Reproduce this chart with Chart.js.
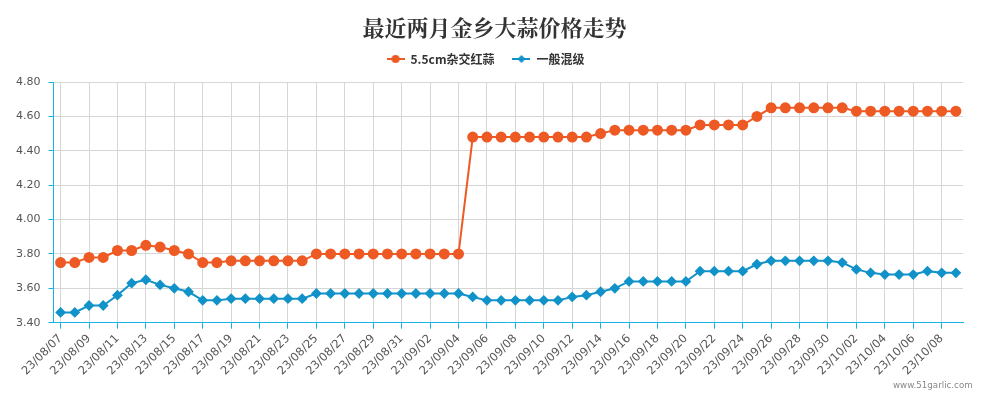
<!DOCTYPE html>
<html>
<head>
<meta charset="utf-8">
<script src="https://cdn.jsdelivr.net/npm/chart.js@4/dist/chart.umd.min.js"></script>
<style>
    html, body { margin: 0; padding: 0; background: #fff; }
    #wrap { position: relative; width: 1003px; height: 394px; }
    #mark {
        position: absolute; left: 893px; top: 380px;
        font: 8.7px "DejaVu Sans", sans-serif; color: #888;
    }
</style>
</head>
<body>
<div id="wrap">
    <canvas id="priceChart"></canvas>
    <div id="mark">www.51garlic.com</div>
</div>
<script>
// ===== DATA =====
const dates = [
    '23/08/07','23/08/08','23/08/09','23/08/10','23/08/11','23/08/12','23/08/13','23/08/14',
    '23/08/15','23/08/16','23/08/17','23/08/18','23/08/19','23/08/20','23/08/21','23/08/22',
    '23/08/23','23/08/24','23/08/25','23/08/26','23/08/27','23/08/28','23/08/29','23/08/30',
    '23/08/31','23/09/01','23/09/02','23/09/03','23/09/04','23/09/05','23/09/06','23/09/07',
    '23/09/08','23/09/09','23/09/10','23/09/11','23/09/12','23/09/13','23/09/14','23/09/15',
    '23/09/16','23/09/17','23/09/18','23/09/19','23/09/20','23/09/21','23/09/22','23/09/23',
    '23/09/24','23/09/25','23/09/26','23/09/27','23/09/28','23/09/29','23/09/30','23/10/01',
    '23/10/02','23/10/03','23/10/04','23/10/05','23/10/06','23/10/07','23/10/08','23/10/09'
];

// 5.5cm杂交红蒜
const redGarlic = [
    3.75, 3.75, 3.78, 3.78, 3.82, 3.82, 3.85, 3.84, 3.82, 3.80,
    3.75, 3.75, 3.76, 3.76, 3.76, 3.76, 3.76, 3.76, 3.80, 3.80,
    3.80, 3.80, 3.80, 3.80, 3.80, 3.80, 3.80, 3.80, 3.80,
    4.48, 4.48, 4.48, 4.48, 4.48, 4.48, 4.48, 4.48, 4.48,
    4.50, 4.52, 4.52, 4.52, 4.52, 4.52, 4.52,
    4.55, 4.55, 4.55, 4.55, 4.60,
    4.65, 4.65, 4.65, 4.65, 4.65, 4.65,
    4.63, 4.63, 4.63, 4.63, 4.63, 4.63, 4.63, 4.63
];

// 一般混级
const mixedGrade = [
    3.46, 3.46, 3.50, 3.50, 3.56, 3.63, 3.65, 3.62, 3.60, 3.58,
    3.53, 3.53, 3.54, 3.54, 3.54, 3.54, 3.54, 3.54,
    3.57, 3.57, 3.57, 3.57, 3.57, 3.57, 3.57, 3.57, 3.57, 3.57, 3.57,
    3.55, 3.53, 3.53, 3.53, 3.53, 3.53, 3.53, 3.55, 3.56, 3.58, 3.60,
    3.64, 3.64, 3.64, 3.64, 3.64,
    3.70, 3.70, 3.70, 3.70, 3.74,
    3.76, 3.76, 3.76, 3.76, 3.76, 3.75, 3.71, 3.69,
    3.68, 3.68, 3.68, 3.70, 3.69, 3.69
];

const yTicks = [3.40, 3.60, 3.80, 4.00, 4.20, 4.40, 4.60, 4.80];

const chartTitle = '最近两月金乡大蒜价格走势';

const RED = '#ee5a24';
const BLUE = '#1192c9';
const AXIS = '#1ab0e8';

// legend icon: short line with the marker on it
function legendIcon(color, shape) {
    const c = document.createElement('canvas');
    c.width = 18; c.height = 10;
    const g = c.getContext('2d');
    g.strokeStyle = color; g.lineWidth = 2;
    g.beginPath(); g.moveTo(0, 5); g.lineTo(18, 5); g.stroke();
    g.fillStyle = color;
    g.beginPath();
    if (shape === 'circle') {
        g.arc(9, 5, 4, 0, Math.PI * 2);
    } else {
        g.moveTo(9, 1); g.lineTo(13, 5); g.lineTo(9, 9); g.lineTo(5, 5); g.closePath();
    }
    g.fill();
    return c;
}

// a bit more room between legend and plot
const legendGap = {
    id: 'legendGap',
    afterInit(chart) {
        const fit = chart.legend.fit;
        chart.legend.fit = function () {
            fit.call(this);
            this.height += 7;
        };
    }
};

// title centred on the whole canvas (the plot is not centred)
const pageTitle = {
    id: 'pageTitle',
    afterDraw(chart) {
        const ctx = chart.ctx;
        ctx.save();
        ctx.fillStyle = '#333';
        ctx.font = 'bold 22px "Noto Serif CJK SC", "Noto Sans CJK SC", serif';
        ctx.textAlign = 'center';
        ctx.textBaseline = 'middle';
        ctx.fillText(chartTitle, 494.5, 28);
        ctx.restore();
    }
};

new Chart(document.getElementById('priceChart'), {
    type: 'line',
    data: {
        labels: dates,
        datasets: [{
            label: '5.5cm杂交红蒜',
            data: redGarlic,
            borderColor: RED,
            backgroundColor: RED,
            borderWidth: 2,
            pointStyle: 'circle',
            pointRadius: 4.5,
            pointHoverRadius: 5,
            tension: 0
        }, {
            label: '一般混级',
            data: mixedGrade,
            borderColor: BLUE,
            backgroundColor: BLUE,
            borderWidth: 2,
            pointStyle: 'rectRot',
            pointRadius: 4,
            pointHoverRadius: 5,
            tension: 0
        }]
    },
    plugins: [legendGap, pageTitle],
    options: {
        responsive: true,
        maintainAspectRatio: false,
        animation: false,
        layout: { padding: { left: 8, right: 40, top: 35, bottom: 13 } },
        plugins: {
            title: { display: false },
            legend: {
                labels: {
                    usePointStyle: true,
                    pointStyleWidth: 18,
                    padding: 18,
                    color: '#333',
                    font: { family: '"Noto Sans CJK SC", sans-serif', size: 12, weight: 'bold' },
                    generateLabels: (chart) => chart.data.datasets.map((ds, i) => ({
                        text: ds.label,
                        fontColor: '#333',
                        pointStyle: legendIcon(ds.borderColor, i === 0 ? 'circle' : 'diamond'),
                        datasetIndex: i,
                        lineWidth: 0
                    }))
                }
            },
            tooltip: { enabled: true }
        },
        scales: {
            x: {
                offset: true,
                grid: {
                    offset: false,
                    color: '#d6d6d6',
                    tickColor: AXIS,
                    tickLength: 6
                },
                border: { color: AXIS, width: 1 },
                ticks: {
                    autoSkip: false,
                    maxRotation: 45,
                    minRotation: 45,
                    color: '#555',
                    font: { family: '"DejaVu Sans", sans-serif', size: 11.5 },
                    callback: function (value, index) {
                        return index % 2 === 0 ? this.getLabelForValue(value) : null;
                    }
                }
            },
            y: {
                min: yTicks[0],
                max: yTicks[yTicks.length - 1],
                afterBuildTicks: (axis) => { axis.ticks = yTicks.map(v => ({ value: v })); },
                grid: {
                    color: '#d6d6d6',
                    tickColor: AXIS,
                    tickLength: 5
                },
                border: { color: AXIS, width: 1 },
                ticks: {
                    padding: 8,
                    color: '#555',
                    font: { family: '"DejaVu Sans", sans-serif', size: 11 },
                    callback: (v) => Number(v).toFixed(2)
                }
            }
        }
    }
});
</script>
</body>
</html>
